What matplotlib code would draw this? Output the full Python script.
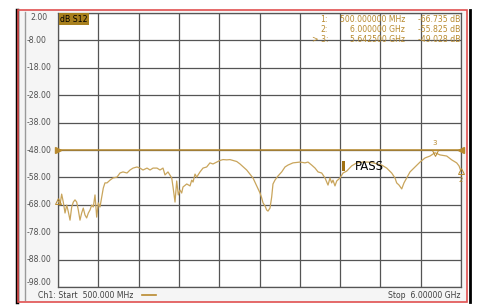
import matplotlib
matplotlib.use("Agg")
import matplotlib.pyplot as plt
from matplotlib.lines import Line2D
from matplotlib.patches import Rectangle

# trace data: frequency (GHz) vs S12 (dB)
freq_ghz = [0.500, 0.514, 0.527, 0.550, 0.572, 0.596, 0.619, 0.641, 0.664, 0.687,
            0.709, 0.732, 0.755, 0.777, 0.800, 0.823, 0.845, 0.868, 0.891, 0.914,
            0.937, 0.960, 0.982, 1.005, 1.028, 1.050, 1.073, 1.096, 1.118, 1.141,
            1.169, 1.210, 1.251, 1.305, 1.346, 1.387, 1.442, 1.483, 1.524, 1.578,
            1.619, 1.660, 1.715, 1.756, 1.797, 1.851, 1.892, 1.933, 1.960, 2.001,
            2.052, 2.070, 2.097, 2.120, 2.142, 2.165, 2.188, 2.206, 2.257, 2.302,
            2.325, 2.343, 2.370, 2.393, 2.438, 2.479, 2.529, 2.574, 2.615, 2.666,
            2.711, 2.752, 2.802, 2.847, 2.888, 2.939, 2.984, 3.025, 3.075, 3.120,
            3.161, 3.212, 3.257, 3.280, 3.298, 3.325, 3.348, 3.366, 3.393, 3.416,
            3.434, 3.461, 3.502, 3.553, 3.598, 3.639, 3.707, 3.803, 3.871, 3.912,
            3.962, 4.008, 4.049, 4.099, 4.144, 4.185, 4.212, 4.235, 4.253, 4.280,
            4.304, 4.349, 4.390, 4.440, 4.508, 4.577, 4.663, 4.731, 4.799, 4.918,
            4.986, 5.054, 5.099, 5.122, 5.154, 5.191, 5.222, 5.259, 5.304, 5.372,
            5.441, 5.509, 5.577, 5.645, 5.714, 5.805, 5.873, 5.941, 5.973, 6.000]
s12_db = [-66.7, -67.0, -68.1, -64.1, -67.0, -71.0, -68.1, -70.6, -73.6, -68.8,
          -67.0, -66.2, -67.0, -69.9, -73.6, -71.0, -69.2, -71.7, -72.8, -71.0,
          -69.9, -68.1, -68.8, -64.4, -72.5, -67.3, -68.8, -65.2, -61.9, -60.0,
          -60.0, -59.0, -58.2, -57.9, -56.4, -56.0, -56.4, -55.3, -54.6, -54.2,
          -54.6, -55.3, -54.6, -55.3, -54.6, -54.6, -55.3, -54.6, -57.1, -56.0,
          -58.2, -61.5, -67.0, -59.3, -64.4, -62.6, -63.7, -61.5, -60.4, -61.1,
          -59.0, -59.7, -56.8, -57.9, -56.0, -54.6, -54.2, -52.7, -53.1, -52.4,
          -51.8, -51.5, -51.6, -51.5, -51.8, -52.2, -53.1, -54.1, -55.3, -56.8,
          -58.2, -61.1, -63.7, -65.5, -67.3, -68.4, -69.9, -70.3, -69.2, -65.2,
          -60.4, -59.0, -57.5, -56.0, -54.2, -53.5, -52.7, -52.4, -52.7, -52.4,
          -53.5, -54.6, -56.0, -56.4, -58.2, -60.8, -58.2, -60.0, -59.0, -61.1,
          -59.3, -58.2, -56.4, -55.7, -53.8, -52.7, -52.4, -52.4, -52.7, -53.5,
          -54.6, -56.4, -58.2, -60.0, -60.8, -62.2, -60.0, -58.2, -56.0, -54.2,
          -52.4, -50.9, -50.2, -49.0, -49.8, -50.2, -51.6, -52.7, -53.8, -55.8]

limit_db = -48.0
y_ticks = [2, -8, -18, -28, -38, -48, -58, -68, -78, -88, -98]
x_start, x_stop = 0.5, 6.0

marker_ids = ["1", "2", "3"]
marker_freq = [0.5, 6.0, 5.6425]
marker_db = [-66.735, -55.825, -49.028]
marker_freq_txt = ["500.000000 MHz", "6.000000 GHz", "5.642500 GHz"]
marker_db_txt = ["-66.735 dB", "-55.825 dB", "-49.028 dB"]

W, H = 478, 306
trace_col = "#c9a55c"
limit_col = "#b88a2e"
grid_col = "#555555"


def px(x, y):
    return x / W, 1 - y / H


fig = plt.figure(figsize=(W / 100, H / 100), dpi=100)
fig.patch.set_facecolor("white")

# instrument frame (background panel sits behind the axes)
fig.add_artist(Rectangle(px(18, 302), 449 / W, 292 / H, facecolor="#f5f5f5",
                         edgecolor="none", zorder=-10))
fig.add_artist(Rectangle(px(18, 302), 449 / W, 292 / H, fill=False,
                         edgecolor="#e05050", linewidth=1.2, zorder=5))
fig.add_artist(Line2D([16.5 / W, 16.5 / W], [1 - 302 / H, 1 - 10 / H],
                      color="black", linewidth=2.5))
fig.add_artist(Line2D([470 / W, 470 / W], [1 - 302 / H, 1 - 10 / H],
                      color="black", linewidth=2.0))
fig.add_artist(Line2D([24.5 / W, 24.5 / W], [1 - 300 / H, 1 - 12 / H],
                      color="#9a9a9a", linewidth=1.0))

ax = fig.add_axes([58 / W, 19 / H, 403 / W, 274 / H])
ax.set_facecolor("white")
ax.set_xlim(x_start, x_stop)
ax.set_ylim(y_ticks[-1], y_ticks[0])

xt = [x_start + i * (x_stop - x_start) / 10 for i in range(11)]
ax.set_xticks(xt)
ax.set_yticks(y_ticks)
ax.grid(True, color=grid_col, linewidth=0.9)
ax.tick_params(length=0, labelbottom=False, labelleft=False)
for s in ax.spines.values():
    s.set_color(grid_col)
    s.set_linewidth(0.9)

# y labels, instrument style
for v in y_ticks:
    xpx = 30 if v >= 0 else 27
    yy = ax.transData.transform((0, v))[1] / fig.dpi / (H / 100)
    va = "top" if v == y_ticks[0] else ("bottom" if v == y_ticks[-1] else "center")
    fig.text(xpx / W, yy, f"{v:.2f}", fontsize=5.6, color="#505050",
             ha="left", va=va)

# limit line and trace
ax.axhline(limit_db, color=limit_col, linewidth=1.1, zorder=3)
ax.plot([x_start], [limit_db], marker=">", color=limit_col, markersize=4,
        clip_on=False, zorder=4)
ax.plot([x_stop], [limit_db], marker="<", color=limit_col, markersize=4,
        clip_on=False, zorder=4)
ax.plot(freq_ghz, s12_db, color=trace_col, linewidth=0.9, zorder=5)

# markers on the trace
for mid, f, d in zip(marker_ids, marker_freq, marker_db):
    if mid == "3":
        ax.plot([f], [d], marker="v", markersize=4, markerfacecolor="none",
                markeredgecolor=limit_col, markeredgewidth=0.7, zorder=6)
        ax.annotate(mid, (f, d), xytext=(0, 5), textcoords="offset points",
                    ha="center", va="bottom", fontsize=5, color=limit_col)
    elif mid == "2":
        ax.plot([f], [d], marker="^", markersize=4, markerfacecolor="none",
                markeredgecolor=limit_col, markeredgewidth=0.7, zorder=6,
                clip_on=False)
        ax.annotate(mid, (f, d), xytext=(0, -4), textcoords="offset points",
                    ha="center", va="top", fontsize=5, color=limit_col,
                    annotation_clip=False)
    else:
        ax.plot([f], [d], marker="^", markersize=4, markerfacecolor="none",
                markeredgecolor=limit_col, markeredgewidth=0.7, zorder=6,
                clip_on=False)

# trace title box
fig.text(*px(60, 19), "dB S12", fontsize=5.6, color="black", ha="left",
         va="center", bbox=dict(boxstyle="square,pad=0.15", facecolor="#a8801e",
                                edgecolor="none"))

# marker readout
for i, mid in enumerate(marker_ids):
    ypix = 19 + i * 10.5
    lab = f"> {mid}:" if mid == "3" else f"{mid}:"
    fig.text(*px(328, ypix), lab, fontsize=5.6, color=limit_col, ha="right", va="center")
    fig.text(*px(405, ypix), marker_freq_txt[i], fontsize=5.6, color=limit_col,
             ha="right", va="center")
    fig.text(*px(460, ypix), marker_db_txt[i], fontsize=5.6, color=limit_col,
             ha="right", va="center")

# pass indicator
fig.add_artist(Rectangle(px(342, 171), 3 / W, 10 / H, facecolor="#a07010",
                         edgecolor="none"))
fig.text(*px(355, 166), "PASS", fontsize=8.5, color="black", ha="left", va="center")

# footer
fig.text(*px(38, 296), "Ch1: Start  500.000 MHz", fontsize=5.6, color="#404040",
         ha="left", va="center")
fig.add_artist(Line2D([142 / W, 156 / W], [1 - 295 / H, 1 - 295 / H],
                      color=limit_col, linewidth=1.2))
fig.text(*px(460, 296), "Stop  6.00000 GHz", fontsize=5.6, color="#404040",
         ha="right", va="center")

fig.savefig("out.png", dpi=100, facecolor=fig.get_facecolor())
